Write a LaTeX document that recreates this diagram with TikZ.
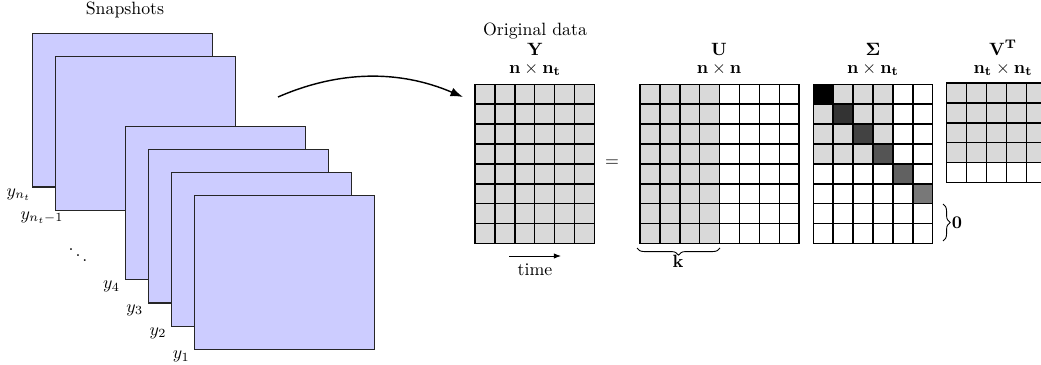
\documentclass[tikz,border=0pt]{standalone}
\usetikzlibrary{arrows.meta,decorations.pathreplacing}
\begin{document}
\begin{tikzpicture}[x=0.5618pt,y=-0.5618pt,
  snap/.style={fill=blue!20,draw=black!85,line width=0.65pt},
  cellbox/.style={draw=black,line width=0.8pt},
  lbl/.style={inner sep=0pt,anchor=base},
  bracestyle/.style={decorate,line width=0.5pt,decoration={brace,amplitude=4pt}}]
\clip (0,0) rectangle (1041,365);
\def\cs{19.9}

% stack of snapshots, back to front
\node[lbl] (snaptitle) at (125,14) {Snapshots};
\foreach \k/\lab in {0/{y_{n_t}},1/{y_{n_t-1}},4/{y_4},5/{y_3},6/{y_2},7/{y_1}}{
  \pgfmathsetmacro\sx{32.3+23.2*\k}
  \pgfmathsetmacro\sy{33.3+23.2*\k}
  \draw[snap] (\sx,\sy) rectangle ++(180,153.7);
  \node[lbl,anchor=base] (snaplab\k) at ({\sx-13.5},{\sy+153.7+9}) {$\lab$};
}
\node (dots) at (78,250) {$\ddots$};

% arrow from the snapshots to the data matrix
\coordinate (arrS) at (278,97);
\coordinate (arrE) at (463,97);
\draw[line width=0.8pt,-{Latex[length=7pt,width=5pt]}] (arrS) .. controls (340,70) and (400,70) .. (arrE);

% Y : n x n_t
\foreach \c in {0,...,5}
  \foreach \r in {0,...,7}
    \filldraw[cellbox,fill=gray!30] ({475+\c*\cs},{84.3+\r*\cs}) rectangle ++(\cs,\cs);
\node[lbl] (ydesc) at (535,36) {Original data};
\node[lbl] (yname) at (535,55) {$\mathbf{Y}$};
\node[lbl] (ydim) at (535,73.3) {$\mathbf{n\times n_t}$};
\coordinate (tS) at (509,256);
\coordinate (tE) at (561,256);
\draw[line width=0.5pt,-{Latex[length=4pt,width=3pt]}] (tS) -- (tE);
\node[lbl] (time) at (535,275) {time};

\node (eq) at (612,163) {$=$};

% U : n x n
\foreach \c in {0,...,7}
  \foreach \r in {0,...,7}{
    \ifnum\c<4
      \filldraw[cellbox,fill=gray!30] ({640+\c*\cs},{84.3+\r*\cs}) rectangle ++(\cs,\cs);
    \else
      \filldraw[cellbox,fill=white] ({640+\c*\cs},{84.3+\r*\cs}) rectangle ++(\cs,\cs);
    \fi
  }
\node[lbl] (uname) at (719,55) {$\mathbf{U}$};
\node[lbl] (udim) at (719,73.3) {$\mathbf{n\times n}$};
\coordinate (kS) at (637,248);
\coordinate (kE) at (720,248);
\draw[bracestyle,decoration={mirror}] (kS) -- (kE);
\node[lbl] (klab) at (678,267) {$\mathbf{k}$};

% Sigma : n x n_t
\foreach \c in {0,...,5}
  \foreach \r in {0,...,7}{
    \ifnum\c<4 \ifnum\r<4
      \filldraw[cellbox,fill=gray!30] ({813.3+\c*\cs},{84.3+\r*\cs}) rectangle ++(\cs,\cs);
    \else
      \filldraw[cellbox,fill=white] ({813.3+\c*\cs},{84.3+\r*\cs}) rectangle ++(\cs,\cs);
    \fi
    \else
      \filldraw[cellbox,fill=white] ({813.3+\c*\cs},{84.3+\r*\cs}) rectangle ++(\cs,\cs);
    \fi
  }
\foreach \i/\s in {0/100,1/80,2/74,3/67,4/62,5/53}
  \filldraw[cellbox,fill=black!\s] ({813.3+\i*\cs},{84.3+\i*\cs}) rectangle ++(\cs,\cs);
\node[lbl] (sname) at (873,55) {$\mathbf{\Sigma}$};
\node[lbl] (sdim) at (873,73.3) {$\mathbf{n\times n_t}$};
\coordinate (zS) at (943,204);
\coordinate (zE) at (943,241);
\draw[bracestyle] (zS) -- (zE);
\node (zlab) at (957,223) {$\mathbf{0}$};

% V^T : n_t x n_t
\foreach \c in {0,...,5}
  \foreach \r in {0,...,4}{
    \ifnum\r<4
      \filldraw[cellbox,fill=gray!30] ({946.7+\c*\cs},{83+\r*\cs}) rectangle ++(\cs,\cs);
    \else
      \filldraw[cellbox,fill=white] ({946.7+\c*\cs},{83+\r*\cs}) rectangle ++(\cs,\cs);
    \fi
  }
\node[lbl] (vname) at (1003,55) {$\mathbf{V^T}$};
\node[lbl] (vdim) at (1003,73.3) {$\mathbf{n_t\times n_t}$};
\end{tikzpicture}
\end{document}
